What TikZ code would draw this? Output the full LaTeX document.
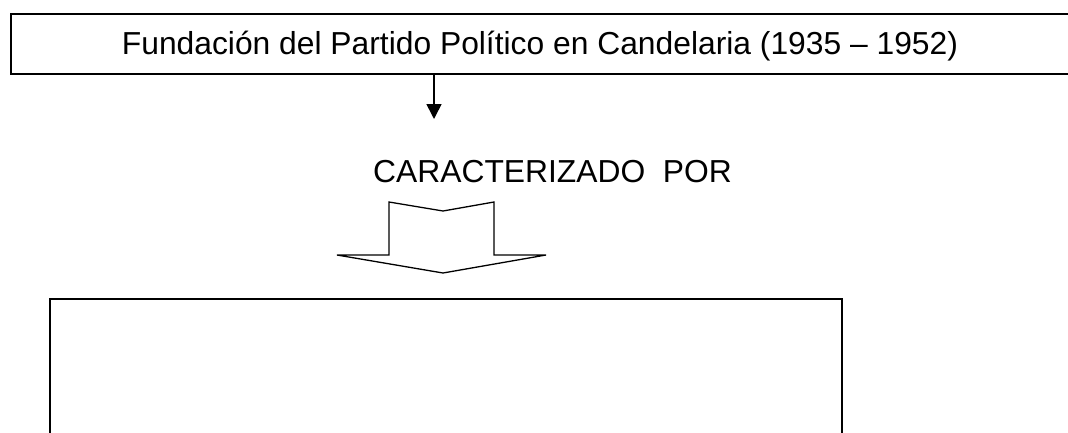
\documentclass[tikz,border=0pt]{standalone}
\usepackage{fontspec}
\setmainfont{Liberation Sans}
\usetikzlibrary{arrows.meta}
\begin{document}
\begin{tikzpicture}[x=1pt,y=1pt,
  boxstyle/.style={draw=black, line width=1.8pt, inner sep=0pt},
  txt/.style={font=\fontsize{31.8}{36}\selectfont, inner sep=0pt},
  conn/.style={line width=1.6pt, -{Triangle[length=15pt,width=15pt]}},
  blockarrow/.style={draw=black, line width=1.3pt, line join=miter, fill=white}]
\useasboundingbox (0,0) rectangle (1068,-432);
\clip (0,0) rectangle (1068,-432);
\node[boxstyle, minimum width=1100pt, minimum height=60pt, anchor=north west] (topbox) at (10,-13) {};
\node[txt, anchor=base] (title) at (540,-54) {Fundación del Partido Político en Candelaria (1935 – 1952)};
\coordinate (arrend) at (434,-119);
\draw[conn] (topbox.south -| arrend) -- (arrend);
\node[txt, anchor=base west] (car) at (373,-182) {CARACTERIZADO\ \ POR};
\draw[blockarrow] (389,-202) -- (443,-211) -- (494,-202) -- (494,-255) -- (546,-255) -- (443,-273) -- (337,-255) -- (389,-255) -- cycle;
\node[boxstyle, minimum width=792pt, minimum height=200pt, anchor=north west] (bottombox) at (49,-298) {};
\end{tikzpicture}
\end{document}
